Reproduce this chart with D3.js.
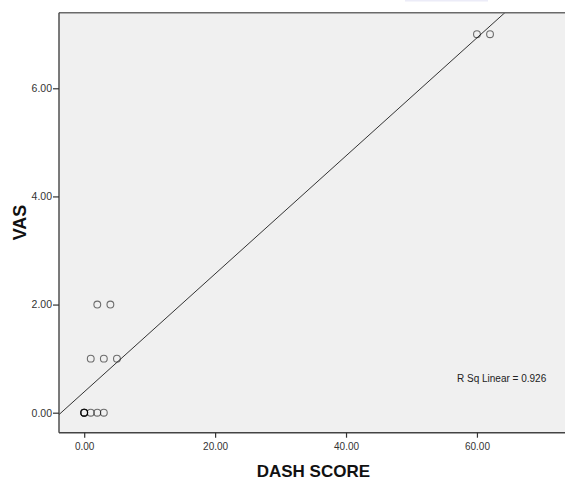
<!DOCTYPE html>
<html>
<head>
<meta charset="utf-8">
<script src="https://cdn.jsdelivr.net/npm/d3@7"></script>
<style>
  html, body { margin: 0; padding: 0; background: #fff; }
  svg { display: block; }
  text { font-family: Arial, "Liberation Sans", sans-serif; }
</style>
</head>
<body>
<svg id="chart" width="565" height="481"></svg>
<script>
// Observations: DASH score vs VAS (several patients sit at 0,0)
const dashScore = [0, 0, 0, 0, 1, 2, 3, 1, 3, 5, 2, 4, 60, 62];
const vas       = [0, 0, 0, 0, 0, 0, 0, 1, 1, 1, 2, 2, 7, 7];

const xTicks = [0, 20, 40, 60];
const yTicks = [0, 2, 4, 6];
const xTitle = "DASH SCORE";
const yTitle = "VAS";
const fitLabel = "R Sq Linear = 0.926";

const svg = d3.select("#chart");
const plot = { left: 59, top: 12.7, right: 600, bottom: 432.7 };

const x = d3.scaleLinear().domain([-3.85, 78.8]).range([plot.left, plot.right]);
const y = d3.scaleLinear().domain([-0.37, 7.398]).range([plot.bottom, plot.top]);

// faint strip at the top edge
svg.append("rect").attr("x", 405).attr("y", 0).attr("width", 83).attr("height", 1.5)
  .attr("fill", "#ececf8");

// plot background
svg.append("rect")
  .attr("x", plot.left).attr("y", plot.top)
  .attr("width", plot.right - plot.left).attr("height", plot.bottom - plot.top)
  .attr("fill", "#f0f0f0");

svg.append("clipPath").attr("id", "plotClip")
  .append("rect")
  .attr("x", plot.left).attr("y", plot.top)
  .attr("width", plot.right - plot.left).attr("height", plot.bottom - plot.top);

// least-squares fit line
const pts = dashScore.map((d, i) => [d, vas[i]]);
const mx = d3.mean(dashScore), my = d3.mean(vas);
const sxy = d3.sum(pts, p => (p[0] - mx) * (p[1] - my));
const sxx = d3.sum(pts, p => (p[0] - mx) ** 2);
const slope = sxy / sxx;
const intercept = my - slope * mx;
const [x0, x1] = x.domain();
svg.append("line")
  .attr("clip-path", "url(#plotClip)")
  .attr("x1", x(x0)).attr("y1", y(intercept + slope * x0))
  .attr("x2", x(x1)).attr("y2", y(intercept + slope * x1))
  .attr("stroke", "#333").attr("stroke-width", 1);

// points
svg.append("g").selectAll("circle").data(pts).join("circle")
  .attr("cx", d => x(d[0])).attr("cy", d => y(d[1]))
  .attr("r", 3.4)
  .attr("fill", "none")
  .attr("stroke", "rgba(0,0,0,0.55)")
  .attr("stroke-width", 1.1);

// frame
svg.append("line").attr("x1", plot.left).attr("x2", plot.right)
  .attr("y1", plot.top).attr("y2", plot.top)
  .attr("stroke", "#6a6a6a").attr("stroke-width", 1.6);

// axes
const xAxis = d3.axisBottom(x).tickValues(xTicks).tickFormat(d3.format(".2f"))
  .tickSize(5).tickSizeOuter(0);
const gx = svg.append("g").attr("transform", `translate(0,${plot.bottom})`).call(xAxis);
gx.select(".domain").attr("d", `M${plot.left},0H${plot.right}`)
  .attr("stroke", "#444").attr("stroke-width", 1.4);
gx.selectAll(".tick line").attr("stroke", "#333").attr("stroke-width", 1.2);
gx.selectAll(".tick text").attr("font-size", 10).attr("fill", "#333")
  .attr("font-family", "Arial, 'Liberation Sans', sans-serif").attr("dy", 0).attr("y", 17.3);

const yAxis = d3.axisLeft(y).tickValues(yTicks).tickFormat(d3.format(".2f"))
  .tickSize(6).tickSizeOuter(0).tickPadding(1);
const gy = svg.append("g").attr("transform", `translate(${plot.left},0)`).call(yAxis);
gy.select(".domain").attr("d", `M0,${plot.top}V${plot.bottom}`)
  .attr("stroke", "#444").attr("stroke-width", 1.4);
gy.selectAll(".tick line").attr("stroke", "#333").attr("stroke-width", 1.2);
gy.selectAll(".tick text").attr("font-size", 10.5).attr("fill", "#333")
  .attr("font-family", "Arial, 'Liberation Sans', sans-serif");

// titles
svg.append("text").attr("x", 313.4).attr("y", 477).attr("text-anchor", "middle")
  .attr("font-size", 17).attr("font-weight", "bold").attr("fill", "#111").text(xTitle);
svg.append("text").attr("transform", "translate(25.5,222.5) rotate(-90)")
  .attr("text-anchor", "middle")
  .attr("font-size", 18).attr("font-weight", "bold").attr("fill", "#111").text(yTitle);

// fit annotation
svg.append("text").attr("x", 457).attr("y", 381.7)
  .attr("font-size", 10).attr("fill", "#222").text(fitLabel);
</script>
</body>
</html>
